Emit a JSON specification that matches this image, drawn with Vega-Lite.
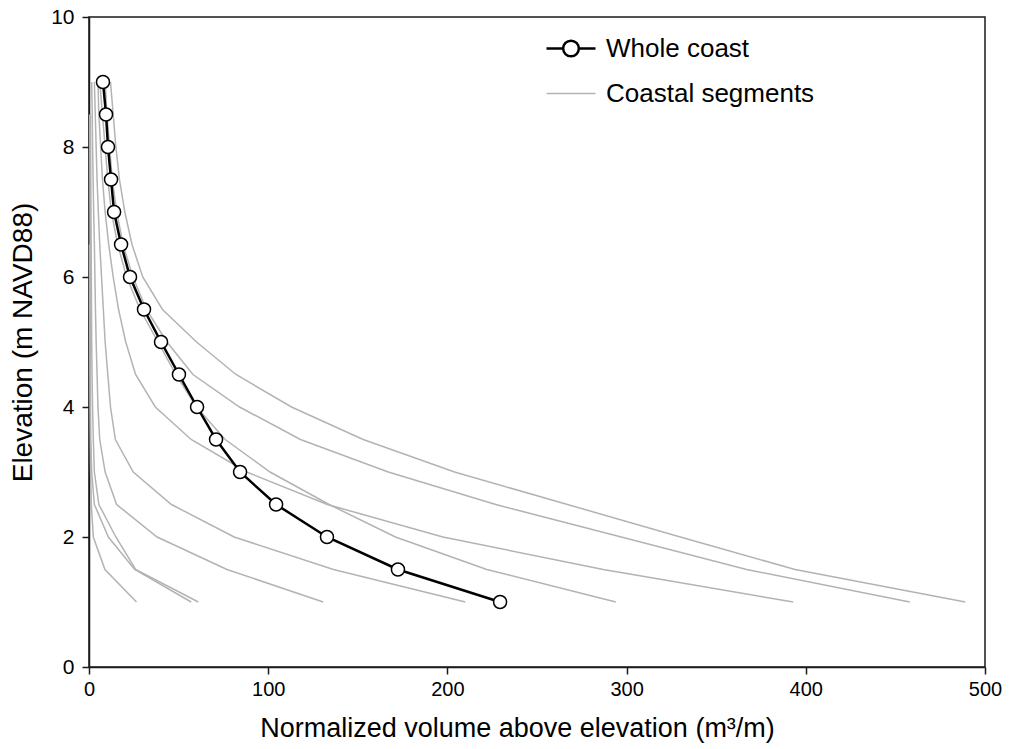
{
  "$schema": "https://vega.github.io/schema/vega-lite/v6.json",
  "width": 896,
  "height": 650,
  "autosize": {"type": "none"},
  "padding": {"left": 89, "top": 17, "right": 25, "bottom": 82},
  "background": "white",
  "config": {
    "font": "Liberation Sans",
    "view": {"stroke": "#1a1a1a", "strokeWidth": 1.5},
    "axis": {
      "domainColor": "#1a1a1a", "domainWidth": 1.5, "tickColor": "#1a1a1a", "tickWidth": 1.5, "tickSize": 7,
      "labelFont": "Liberation Sans", "labelFontSize": 20, "labelColor": "#000", "labelFlush": false,
      "titleFont": "Liberation Sans", "titleFontWeight": "normal", "titleColor": "#000",
      "grid": false
    }
  },
  "data": {"values": [
    {"s":"A","series":"Coastal segments","e":9,"v":12},{"s":"A","series":"Coastal segments","e":8.5,"v":13.5},{"s":"A","series":"Coastal segments","e":8,"v":15},{"s":"A","series":"Coastal segments","e":7.5,"v":17},{"s":"A","series":"Coastal segments","e":7,"v":20},{"s":"A","series":"Coastal segments","e":6.5,"v":24},{"s":"A","series":"Coastal segments","e":6,"v":30},{"s":"A","series":"Coastal segments","e":5.5,"v":41},{"s":"A","series":"Coastal segments","e":5,"v":60},{"s":"A","series":"Coastal segments","e":4.5,"v":82},{"s":"A","series":"Coastal segments","e":4,"v":113},{"s":"A","series":"Coastal segments","e":3.5,"v":153},{"s":"A","series":"Coastal segments","e":3,"v":204},{"s":"A","series":"Coastal segments","e":2.5,"v":267},{"s":"A","series":"Coastal segments","e":2,"v":330},{"s":"A","series":"Coastal segments","e":1.5,"v":394},{"s":"A","series":"Coastal segments","e":1,"v":489},
    {"s":"B","series":"Coastal segments","e":9,"v":9},{"s":"B","series":"Coastal segments","e":8.5,"v":10},{"s":"B","series":"Coastal segments","e":8,"v":11.5},{"s":"B","series":"Coastal segments","e":7.5,"v":13},{"s":"B","series":"Coastal segments","e":7,"v":15.5},{"s":"B","series":"Coastal segments","e":6.5,"v":19},{"s":"B","series":"Coastal segments","e":6,"v":24.5},{"s":"B","series":"Coastal segments","e":5.5,"v":32},{"s":"B","series":"Coastal segments","e":5,"v":43.5},{"s":"B","series":"Coastal segments","e":4.5,"v":58},{"s":"B","series":"Coastal segments","e":4,"v":84},{"s":"B","series":"Coastal segments","e":3.5,"v":118},{"s":"B","series":"Coastal segments","e":3,"v":167},{"s":"B","series":"Coastal segments","e":2.5,"v":227},{"s":"B","series":"Coastal segments","e":2,"v":297},{"s":"B","series":"Coastal segments","e":1.5,"v":367},{"s":"B","series":"Coastal segments","e":1,"v":458},
    {"s":"C","series":"Coastal segments","e":9,"v":5},{"s":"C","series":"Coastal segments","e":8.5,"v":5.5},{"s":"C","series":"Coastal segments","e":8,"v":6.5},{"s":"C","series":"Coastal segments","e":7.5,"v":7.5},{"s":"C","series":"Coastal segments","e":7,"v":9},{"s":"C","series":"Coastal segments","e":6.5,"v":11},{"s":"C","series":"Coastal segments","e":6,"v":13.5},{"s":"C","series":"Coastal segments","e":5.5,"v":16.5},{"s":"C","series":"Coastal segments","e":5,"v":20.5},{"s":"C","series":"Coastal segments","e":4.5,"v":26},{"s":"C","series":"Coastal segments","e":4,"v":37},{"s":"C","series":"Coastal segments","e":3.5,"v":57},{"s":"C","series":"Coastal segments","e":3,"v":88},{"s":"C","series":"Coastal segments","e":2.5,"v":133},{"s":"C","series":"Coastal segments","e":2,"v":197.5},{"s":"C","series":"Coastal segments","e":1.5,"v":287},{"s":"C","series":"Coastal segments","e":1,"v":393},
    {"s":"D","series":"Coastal segments","e":9,"v":6},{"s":"D","series":"Coastal segments","e":8.5,"v":7.5},{"s":"D","series":"Coastal segments","e":8,"v":9},{"s":"D","series":"Coastal segments","e":7.5,"v":10.5},{"s":"D","series":"Coastal segments","e":7,"v":12.5},{"s":"D","series":"Coastal segments","e":6.5,"v":16},{"s":"D","series":"Coastal segments","e":6,"v":21},{"s":"D","series":"Coastal segments","e":5.5,"v":28.5},{"s":"D","series":"Coastal segments","e":5,"v":38.5},{"s":"D","series":"Coastal segments","e":4.5,"v":48.5},{"s":"D","series":"Coastal segments","e":4,"v":60},{"s":"D","series":"Coastal segments","e":3.5,"v":76},{"s":"D","series":"Coastal segments","e":3,"v":101},{"s":"D","series":"Coastal segments","e":2.5,"v":134},{"s":"D","series":"Coastal segments","e":2,"v":171},{"s":"D","series":"Coastal segments","e":1.5,"v":222},{"s":"D","series":"Coastal segments","e":1,"v":294},
    {"s":"I","series":"Coastal segments","e":9,"v":3},{"s":"I","series":"Coastal segments","e":8.5,"v":3.5},{"s":"I","series":"Coastal segments","e":8,"v":4},{"s":"I","series":"Coastal segments","e":7.5,"v":4.5},{"s":"I","series":"Coastal segments","e":7,"v":5.2},{"s":"I","series":"Coastal segments","e":6.5,"v":6},{"s":"I","series":"Coastal segments","e":6,"v":7},{"s":"I","series":"Coastal segments","e":5.5,"v":8},{"s":"I","series":"Coastal segments","e":5,"v":9},{"s":"I","series":"Coastal segments","e":4.5,"v":10.5},{"s":"I","series":"Coastal segments","e":4,"v":12},{"s":"I","series":"Coastal segments","e":3.5,"v":14.7},{"s":"I","series":"Coastal segments","e":3,"v":24.7},{"s":"I","series":"Coastal segments","e":2.5,"v":46},{"s":"I","series":"Coastal segments","e":2,"v":81},{"s":"I","series":"Coastal segments","e":1.5,"v":136.4},{"s":"I","series":"Coastal segments","e":1,"v":210},
    {"s":"H","series":"Coastal segments","e":9,"v":1.5},{"s":"H","series":"Coastal segments","e":8.5,"v":1.8},{"s":"H","series":"Coastal segments","e":8,"v":2},{"s":"H","series":"Coastal segments","e":7.5,"v":2.3},{"s":"H","series":"Coastal segments","e":7,"v":2.6},{"s":"H","series":"Coastal segments","e":6.5,"v":3},{"s":"H","series":"Coastal segments","e":6,"v":3.3},{"s":"H","series":"Coastal segments","e":5.5,"v":3.6},{"s":"H","series":"Coastal segments","e":5,"v":4},{"s":"H","series":"Coastal segments","e":4.5,"v":4.5},{"s":"H","series":"Coastal segments","e":4,"v":5},{"s":"H","series":"Coastal segments","e":3.5,"v":6},{"s":"H","series":"Coastal segments","e":3,"v":9},{"s":"H","series":"Coastal segments","e":2.5,"v":15.4},{"s":"H","series":"Coastal segments","e":2,"v":38},{"s":"H","series":"Coastal segments","e":1.5,"v":77},{"s":"H","series":"Coastal segments","e":1,"v":130.7},
    {"s":"G","series":"Coastal segments","e":8.5,"v":0.8},{"s":"G","series":"Coastal segments","e":8,"v":0.9},{"s":"G","series":"Coastal segments","e":7.5,"v":1},{"s":"G","series":"Coastal segments","e":7,"v":1.1},{"s":"G","series":"Coastal segments","e":6.5,"v":1.2},{"s":"G","series":"Coastal segments","e":6,"v":1.3},{"s":"G","series":"Coastal segments","e":5.5,"v":1.4},{"s":"G","series":"Coastal segments","e":5,"v":1.5},{"s":"G","series":"Coastal segments","e":4.5,"v":1.7},{"s":"G","series":"Coastal segments","e":4,"v":2},{"s":"G","series":"Coastal segments","e":3.5,"v":2.4},{"s":"G","series":"Coastal segments","e":3,"v":3},{"s":"G","series":"Coastal segments","e":2.5,"v":5.5},{"s":"G","series":"Coastal segments","e":2,"v":15},{"s":"G","series":"Coastal segments","e":1.5,"v":26},{"s":"G","series":"Coastal segments","e":1,"v":61},
    {"s":"F","series":"Coastal segments","e":8.5,"v":0.4},{"s":"F","series":"Coastal segments","e":8,"v":0.45},{"s":"F","series":"Coastal segments","e":7.5,"v":0.5},{"s":"F","series":"Coastal segments","e":7,"v":0.55},{"s":"F","series":"Coastal segments","e":6.5,"v":0.6},{"s":"F","series":"Coastal segments","e":6,"v":0.65},{"s":"F","series":"Coastal segments","e":5.5,"v":0.7},{"s":"F","series":"Coastal segments","e":5,"v":0.75},{"s":"F","series":"Coastal segments","e":4.5,"v":0.8},{"s":"F","series":"Coastal segments","e":4,"v":0.85},{"s":"F","series":"Coastal segments","e":3.5,"v":1},{"s":"F","series":"Coastal segments","e":3,"v":1.5},{"s":"F","series":"Coastal segments","e":2.5,"v":3},{"s":"F","series":"Coastal segments","e":2,"v":10.8},{"s":"F","series":"Coastal segments","e":1.5,"v":25.5},{"s":"F","series":"Coastal segments","e":1,"v":57},
    {"s":"E","series":"Coastal segments","e":6.5,"v":0.3},{"s":"E","series":"Coastal segments","e":6,"v":0.35},{"s":"E","series":"Coastal segments","e":5.5,"v":0.4},{"s":"E","series":"Coastal segments","e":5,"v":0.45},{"s":"E","series":"Coastal segments","e":4.5,"v":0.5},{"s":"E","series":"Coastal segments","e":4,"v":0.6},{"s":"E","series":"Coastal segments","e":3.5,"v":0.7},{"s":"E","series":"Coastal segments","e":3,"v":0.9},{"s":"E","series":"Coastal segments","e":2.5,"v":1.3},{"s":"E","series":"Coastal segments","e":2,"v":2.4},{"s":"E","series":"Coastal segments","e":1.5,"v":8.9},{"s":"E","series":"Coastal segments","e":1,"v":26.5},
    {"s":"W","series":"Whole coast","e":9,"v":7.8},{"s":"W","series":"Whole coast","e":8.5,"v":9.5},{"s":"W","series":"Whole coast","e":8,"v":10.6},{"s":"W","series":"Whole coast","e":7.5,"v":12.3},{"s":"W","series":"Whole coast","e":7,"v":14},{"s":"W","series":"Whole coast","e":6.5,"v":17.9},{"s":"W","series":"Whole coast","e":6,"v":22.9},{"s":"W","series":"Whole coast","e":5.5,"v":30.7},{"s":"W","series":"Whole coast","e":5,"v":40.2},{"s":"W","series":"Whole coast","e":4.5,"v":50.2},{"s":"W","series":"Whole coast","e":4,"v":60.3},{"s":"W","series":"Whole coast","e":3.5,"v":70.9},{"s":"W","series":"Whole coast","e":3,"v":84.3},{"s":"W","series":"Whole coast","e":2.5,"v":104.4},{"s":"W","series":"Whole coast","e":2,"v":132.8},{"s":"W","series":"Whole coast","e":1.5,"v":172.4},{"s":"W","series":"Whole coast","e":1,"v":229.4}
  ]},
  "encoding": {
    "x": {"field": "v", "type": "quantitative", "scale": {"domain": [0, 500], "nice": false},
      "axis": {"values": [0, 100, 200, 300, 400, 500], "title": "Normalized volume above elevation (m³/m)", "labelPadding": 5, "titlePadding": 16, "titleFontSize": 27, "titleX": 428}},
    "y": {"field": "e", "type": "quantitative", "scale": {"domain": [0, 10], "nice": false},
      "axis": {"values": [0, 2, 4, 6, 8, 10], "title": "Elevation (m NAVD88)", "labelPadding": 8, "titlePadding": 13, "titleFontSize": 28, "labelFontSize": 21}},
    "order": {"field": "e", "sort": "descending"}
  },
  "layer": [
    {
      "transform": [{"filter": "datum.s !== 'W'"}],
      "mark": {"type": "line", "color": "#b3b3b3", "strokeWidth": 1.5},
      "encoding": {"detail": {"field": "s"}}
    },
    {
      "transform": [{"filter": "datum.s === 'W'"}],
      "mark": {"type": "line", "color": "#000000", "strokeWidth": 2.5},
      "encoding": {}
    },
    {
      "transform": [{"filter": "datum.s === 'W'"}],
      "mark": {"type": "point", "filled": true, "fill": "white", "stroke": "#000000", "strokeWidth": 1.5, "size": 170, "opacity": 1},
      "encoding": {}
    },
    {
      "transform": [{"filter": "datum.s === 'W'"}],
      "mark": {"type": "point", "filled": true, "fill": "white", "size": 2401, "opacity": 0},
      "encoding": {
        "shape": {"field": "series", "type": "nominal",
          "scale": {"domain": ["Whole coast", "Coastal segments"], "range": ["M-1,0H-0.32M0.32,0H1M0.32,0A0.32,0.32,0,1,1,-0.32,0A0.32,0.32,0,1,1,0.32,0Z", "M-1,0H1"]},
          "legend": {"title": null, "orient": "none", "legendX": 456, "legendY": 9, "labelFontSize": 26, "labelFont": "Liberation Sans", "labelColor": "#000", "labelOffset": 9, "labelLimit": 400, "symbolOpacity": 1, "symbolSize": 2401, "rowPadding": 0, "clipHeight": 45, "symbolFillColor": "white"}},
        "stroke": {"field": "series", "type": "nominal",
          "scale": {"domain": ["Whole coast", "Coastal segments"], "range": ["#000000", "#b3b3b3"]}},
        "strokeWidth": {"field": "series", "type": "nominal",
          "scale": {"domain": ["Whole coast", "Coastal segments"], "range": [2.5, 1.5]}}
      }
    }
  ]
}
